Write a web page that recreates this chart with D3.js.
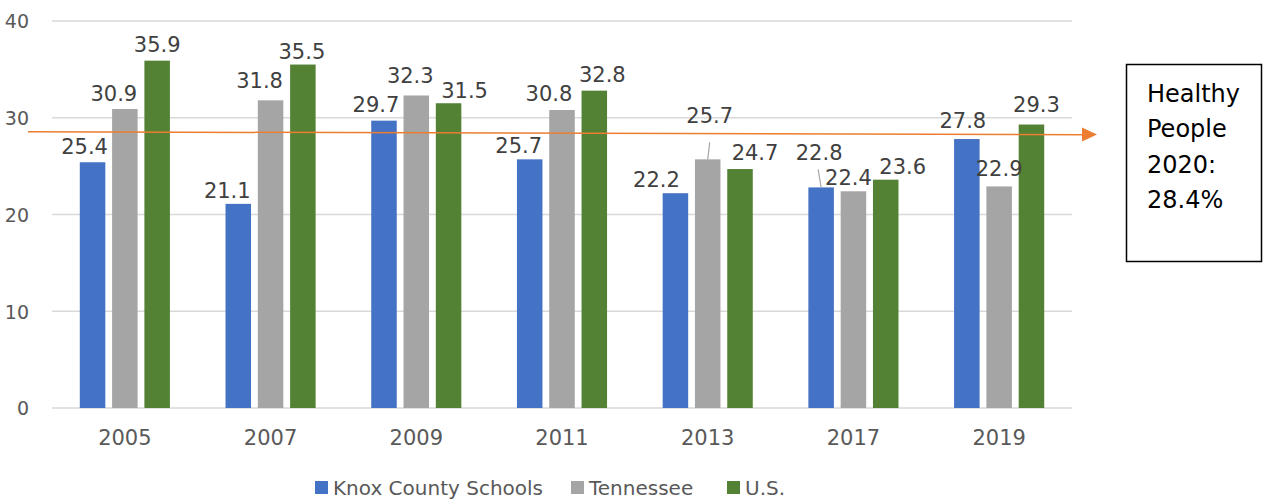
<!DOCTYPE html>
<html>
<head>
<meta charset="utf-8">
<script src="https://cdn.jsdelivr.net/npm/d3@7"></script>
<style>
  body { margin: 0; background: #fff; }
  svg { display: block; }
  text { font-family: "DejaVu Sans", sans-serif; }
</style>
</head>
<body>
<svg id="chart" width="1263" height="500"></svg>
<script>
// ---- data ----
const years = ["2005", "2007", "2009", "2011", "2013", "2017", "2019"];
const seriesNames = ["Knox County Schools", "Tennessee", "U.S."];
const knox = [25.4, 21.1, 29.7, 25.7, 22.2, 22.8, 27.8];
const tennessee = [30.9, 31.8, 32.3, 30.8, 25.7, 22.4, 22.9];
const us = [35.9, 35.5, 31.5, 32.8, 24.7, 23.6, 29.3];
const yTicks = [0, 10, 20, 30, 40];
const targetValue = 28.4;
const targetLines = ["Healthy", "People", "2020:", "28.4%"];

// ---- styling / layout ----
const colors = ["#4472C4", "#A5A5A5", "#548235"];
// label nudges [dx, dy] per series per year (layout only)
const labelNudge = [
  [[-8, 0], [-11, 2], [-8, -1], [-11, 2], [-19, 2], [-2, -19], [-4, -3]],
  [[-11, 0], [-11, -4], [-6, -4], [-13, -1], [2, -28], [-5, 2], [0, -2]],
  [[0, -1], [-1, 2], [16, 3], [8, -1], [15, -1], [17, 2], [5, -5]]
];
// leader lines: [seriesIndex, yearIndex, startDx, startDy]
const leaders = [[1, 4, 0, 19], [0, 5, -1, 9]];

const svg = d3.select("#chart");
const plotLeft = 52, plotRight = 1072, plotTop = 21, plotBottom = 408;

const y = d3.scaleLinear().domain([0, 40]).range([plotBottom, plotTop]);
const x0 = d3.scaleBand().domain(years).range([plotLeft, plotRight]).padding(0);
const groupW = 96.9;
const x1 = d3.scaleBand().domain(seriesNames).range([0, groupW]).paddingInner(0.21).paddingOuter(0.105);

// gridlines
svg.append("g").selectAll("line").data(yTicks).join("line")
  .attr("x1", plotLeft).attr("x2", plotRight)
  .attr("y1", d => y(d)).attr("y2", d => y(d))
  .attr("stroke", "#D9D9D9").attr("stroke-width", 1.3);

// y axis labels
const yAxis = d3.axisLeft(y).tickValues(yTicks).tickSize(0).tickPadding(0);
const yg = svg.append("g").attr("transform", "translate(29,0)").call(yAxis);
yg.select(".domain").remove();
yg.selectAll("text").attr("font-size", 19).attr("fill", "#595959")
  .attr("font-family", "DejaVu Sans, sans-serif").attr("dy", "0.36em");

// x axis labels
const xAxis = d3.axisBottom(x0).tickSize(0).tickPadding(0);
const xg = svg.append("g").attr("transform", `translate(0,${plotBottom})`).call(xAxis);
xg.select(".domain").remove();
xg.selectAll("text").attr("font-size", 21).attr("fill", "#595959")
  .attr("font-family", "DejaVu Sans, sans-serif").attr("dy", null).attr("y", 37);

const allSeries = [knox, tennessee, us];
const barData = [];
allSeries.forEach((vals, si) => {
  vals.forEach((v, yi) => {
    barData.push({ si, yi, v, year: years[yi], name: seriesNames[si] });
  });
});
const barX = d => x0(d.year) + x0.bandwidth() / 2 - groupW / 2 + x1(d.name);

// bars
svg.append("g").selectAll("rect").data(barData).join("rect")
  .attr("x", barX)
  .attr("y", d => y(d.v))
  .attr("width", x1.bandwidth())
  .attr("height", d => y(0) - y(d.v))
  .attr("fill", d => colors[d.si]);

// data labels
const labelX = d => barX(d) + x1.bandwidth() / 2 + labelNudge[d.si][d.yi][0];
const labelY = d => y(d.v) - 8 + labelNudge[d.si][d.yi][1];
svg.append("g").selectAll("text").data(barData).join("text")
  .attr("x", labelX).attr("y", labelY)
  .attr("text-anchor", "middle")
  .attr("font-size", 21).attr("fill", "#404040")
  .text(d => d.v.toFixed(1));

// leader lines
svg.append("g").selectAll("line").data(leaders).join("line")
  .each(function(l) {
    const d = barData.find(b => b.si === l[0] && b.yi === l[1]);
    d3.select(this)
      .attr("x1", labelX(d) + l[2]).attr("y1", labelY(d) + l[3])
      .attr("x2", barX(d) + x1.bandwidth() / 2).attr("y2", y(d.v));
  })
  .attr("stroke", "#A6A6A6").attr("stroke-width", 1.2);

// target arrow
const ty = y(targetValue);
svg.append("line")
  .attr("x1", 28).attr("y1", ty - 1.5).attr("x2", 1083).attr("y2", ty + 1.5)
  .attr("stroke", "#ED7D31").attr("stroke-width", 1.5);
svg.append("path")
  .attr("d", `M1082,${ty - 5.7} L1097,${ty + 1.3} L1082,${ty + 8.3} Z`)
  .attr("fill", "#ED7D31");

// annotation box
svg.append("rect")
  .attr("x", 1126.5).attr("y", 64.5).attr("width", 135).attr("height", 197)
  .attr("fill", "#fff").attr("stroke", "#000").attr("stroke-width", 1.5);
svg.append("g").selectAll("text").data(targetLines).join("text")
  .attr("x", 1147).attr("y", (d, i) => 102 + i * 35.3)
  .attr("font-size", 24).attr("fill", "#000")
  .text(d => d);

// legend
const legendTextX = [333, 589, 745];
const lg = svg.append("g");
seriesNames.forEach((n, i) => {
  lg.append("rect").attr("x", legendTextX[i] - 18).attr("y", 481)
    .attr("width", 13).attr("height", 13).attr("fill", colors[i]);
  lg.append("text").attr("x", legendTextX[i]).attr("y", 495)
    .attr("font-size", 20).attr("fill", "#595959").text(n);
});
</script>
</body>
</html>
